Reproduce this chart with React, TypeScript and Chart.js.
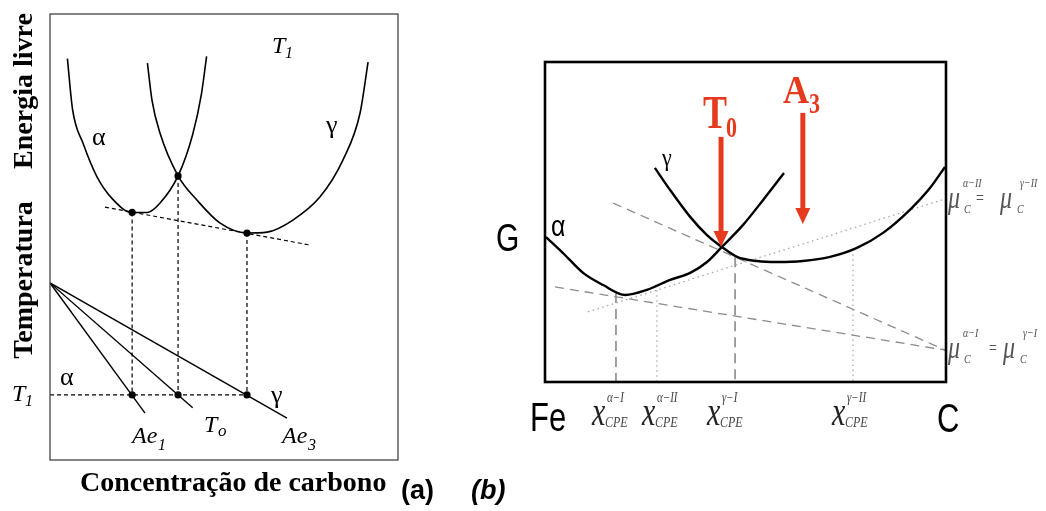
import { useEffect, useRef } from "react";
import { Chart, registerables } from "chart.js";
Chart.register(...registerables);

// ---------- Panel (a): free energy vs carbon at T1, and temperature diagram ----------
const aAlphaX = [5, 6.5, 9.5, 13.5, 18, 23.5, 28, 31.5, 36.8, 41, 43.5, 45];
const aAlphaY = [90, 78.5, 71, 63.5, 58.5, 55.5, 55.5, 57.5, 63.7, 73, 82, 90.5];
const aGammaX = [28, 29.3, 31.6, 36.8, 42.2, 48.9, 56.6, 62.4, 69.8, 77.6, 84.2, 89.1, 91.4];
const aGammaY = [89, 80.7, 73.3, 63.7, 58.3, 53.1, 50.9, 51.1, 53.8, 59, 67.3, 77.8, 89.2];
const aTangentX = [15.8, 74.7];
const aTangentY = [56.7, 48.2];
const aDotX = [23.6, 36.8, 56.6];
const aDotTopY = [55.5, 63.7, 50.9];
const aT1 = 14.6;
const aFanStart = [0, 39.7];
const aFanEndX = [27.3, 41, 68.1]; // Ae1, To, Ae3
const aFanEndY = [10.5, 11.7, 9.4];

// ---------- Panel (b): G vs composition Fe -> C ----------
const bAlphaX = [0.25, 4.5, 9.5, 14.5, 20, 25.4, 31.2, 36.2, 40.4, 44.1, 49.4, 54.4, 59.6];
const bAlphaY = [45.3, 40.3, 34.1, 30.3, 27.2, 28.8, 31.9, 34.1, 37.5, 42.2, 49.1, 56.9, 65.3];
const bGammaX = [27.4, 31.2, 36.2, 40.4, 44.1, 47.9, 52.9, 57.9, 64.3, 71.1, 77.8, 84.3, 91, 96, 99.75];
const bGammaY = [66.9, 60, 51.6, 45.9, 42.2, 39.1, 37.8, 37.5, 37.8, 39.1, 41.9, 46.6, 53.8, 60.6, 67.2];
const bTanGammaIX = [17, 99.75];
const bTanGammaIY = [55.9, 10];
const bTanAlphaIX = [2.5, 99.75];
const bTanAlphaIY = [29.7, 10];
const bTanIIX = [10.7, 99];
const bTanIIY = [21.9, 56.9];
const bDashDropX = [17.7, 47.4];
const bDashDropTop = [27.8, 39.0];
const bDotDropX = [27.9, 76.8];
const bDotDropTop = [28.7, 41.4];
const bArrowX = [43.9, 64.3]; // T0, A3
const bArrowTop = [76.6, 84.1];
const bArrowTip = [42.2, 49.4];

const SERIF = '"Liberation Serif", "Times New Roman", serif';
const SANS = '"Liberation Sans", Arial, sans-serif';
const RED = "#e63a1e";

const pts = (xs: number[], ys: number[]) => xs.map((x, i) => ({ x, y: ys[i] }));

function line(xs: number[], ys: number[], opts: any) {
  return {
    data: pts(xs, ys),
    showLine: true,
    pointRadius: 0,
    fill: false,
    tension: 0,
    ...opts,
  };
}

function txt(
  ctx: CanvasRenderingContext2D,
  s: string,
  x: number,
  y: number,
  font: string,
  color = "#000",
  sy = 1,
  align: CanvasTextAlign = "left",
  rot = 0
) {
  ctx.save();
  ctx.font = font;
  ctx.fillStyle = color;
  ctx.textAlign = align;
  ctx.textBaseline = "alphabetic";
  ctx.translate(x, y);
  if (rot) ctx.rotate(rot);
  ctx.scale(1, sy);
  ctx.fillText(s, 0, 0);
  ctx.restore();
}

const scales = {
  x: { type: "linear", min: 0, max: 100, display: false },
  y: { type: "linear", min: 0, max: 100, display: false },
};

const decoA = {
  id: "decoA",
  afterDatasetsDraw(chart: any) {
    const ctx = chart.ctx as CanvasRenderingContext2D;
    const a = chart.chartArea;
    ctx.save();
    ctx.strokeStyle = "#444";
    ctx.lineWidth = 1.3;
    ctx.strokeRect(a.left, a.top, a.right - a.left, a.bottom - a.top);
    ctx.restore();
    // axis titles
    txt(ctx, "Energia livre", 32, 91, `bold 28px ${SERIF}`, "#000", 1, "center", -Math.PI / 2);
    txt(ctx, "Temperatura", 32, 280, `bold 28px ${SERIF}`, "#000", 1, "center", -Math.PI / 2);
    txt(ctx, "Concentração de carbono", 80, 491, `bold 28px ${SERIF}`);
    txt(ctx, "(a)", 401, 499, `bold 27px ${SANS}`);
    // upper labels
    txt(ctx, "T", 272, 53, `italic 24px ${SERIF}`);
    txt(ctx, "1", 285, 58, `italic 16px ${SERIF}`);
    txt(ctx, "α", 92, 145, `26px ${SERIF}`);
    txt(ctx, "γ", 326, 133, `26px ${SERIF}`);
    // lower labels
    txt(ctx, "α", 60, 385, `26px ${SERIF}`);
    txt(ctx, "T", 12, 401, `italic 24px ${SERIF}`);
    txt(ctx, "1", 25, 406, `italic 16px ${SERIF}`);
    txt(ctx, "γ", 271, 403, `26px ${SERIF}`);
    txt(ctx, "Ae", 132, 443, `italic 24px ${SERIF}`);
    txt(ctx, "1", 158, 450, `italic 16px ${SERIF}`);
    txt(ctx, "T", 204, 432, `italic 24px ${SERIF}`);
    txt(ctx, "o", 218, 436, `italic 17px ${SERIF}`);
    txt(ctx, "Ae", 282, 443, `italic 24px ${SERIF}`);
    txt(ctx, "3", 308, 450, `italic 16px ${SERIF}`);
  },
};

const decoB = {
  id: "decoB",
  afterDatasetsDraw(chart: any) {
    const ctx = chart.ctx as CanvasRenderingContext2D;
    const a = chart.chartArea;
    const xs = chart.scales.x;
    const ys = chart.scales.y;
    // red arrows
    bArrowX.forEach((xv, i) => {
      const px = xs.getPixelForValue(xv);
      const top = ys.getPixelForValue(bArrowTop[i]);
      const tip = ys.getPixelForValue(bArrowTip[i]);
      const headH = 16;
      const headW = 7.5;
      ctx.save();
      ctx.strokeStyle = RED;
      ctx.fillStyle = RED;
      ctx.lineWidth = 5;
      ctx.beginPath();
      ctx.moveTo(px, top);
      ctx.lineTo(px, tip - headH + 2);
      ctx.stroke();
      ctx.beginPath();
      ctx.moveTo(px - headW, tip - headH);
      ctx.lineTo(px + headW, tip - headH);
      ctx.lineTo(px, tip);
      ctx.closePath();
      ctx.fill();
      ctx.restore();
    });
    ctx.save();
    ctx.strokeStyle = "#000";
    ctx.lineWidth = 2.6;
    ctx.strokeRect(a.left, a.top, a.right - a.left, a.bottom - a.top);
    ctx.restore();
    const S = 1.3;
    txt(ctx, "(b)", 471, 499, `italic bold 27px ${SANS}`);
    txt(ctx, "G", 496, 251, `30px ${SANS}`, "#000", S);
    txt(ctx, "α", 551, 236, `25px ${SANS}`, "#000", S * 0.9);
    txt(ctx, "γ", 662, 166, `22px ${SERIF}`, "#000", S * 0.9);
    txt(ctx, "T", 703, 128, `bold 36px ${SERIF}`, RED, S);
    txt(ctx, "0", 726, 137, `bold 22px ${SERIF}`, RED, S);
    txt(ctx, "A", 783, 103, `bold 36px ${SERIF}`, RED, S * 0.85);
    txt(ctx, "3", 809, 113, `bold 22px ${SERIF}`, RED, S);
    txt(ctx, "Fe", 530, 431, `31px ${SANS}`, "#000", S);
    txt(ctx, "C", 937, 432, `31px ${SANS}`, "#000", S);
    // x_CPE labels
    const xl = [
      [592, "α−I"],
      [642, "α−II"],
      [707, "γ−I"],
      [832, "γ−II"],
    ] as [number, string][];
    xl.forEach(([x0, sup]) => {
      txt(ctx, "x", x0, 425, `italic 30px ${SERIF}`, "#222", S);
      txt(ctx, "CPE", x0 + 13, 427, `italic 12px ${SERIF}`, "#444", S);
      txt(ctx, sup, x0 + 15, 402, `italic 11px ${SERIF}`, "#444", S);
    });
    // mu labels
    const mu = (y: number, supA: string, supG: string, eqX: number, mu2X: number) => {
      txt(ctx, "μ", 948, y, `italic 24px ${SERIF}`, "#555", S);
      txt(ctx, "C", 964, y + 5, `italic 10px ${SERIF}`, "#555", S);
      txt(ctx, supA, 963, y - 21, `italic 10px ${SERIF}`, "#555", S);
      txt(ctx, "=", eqX, y - 4, `14px ${SERIF}`, "#555", S);
      txt(ctx, "μ", mu2X, y, `italic 24px ${SERIF}`, "#555", S);
      txt(ctx, "C", mu2X + 17, y + 5, `italic 10px ${SERIF}`, "#555", S);
      txt(ctx, supG, mu2X + 20, y - 21, `italic 10px ${SERIF}`, "#555", S);
    };
    mu(208, "α−II", "γ−II", 976, 1000);
    mu(358, "α−I", "γ−I", 989, 1003);
  },
};

const configA: any = {
  type: "scatter",
  data: {
    datasets: [
      line(aAlphaX, aAlphaY, { borderColor: "#000", borderWidth: 1.6, cubicInterpolationMode: "monotone" }),
      line(aGammaX, aGammaY, { borderColor: "#000", borderWidth: 1.6, cubicInterpolationMode: "monotone" }),
      line(aTangentX, aTangentY, { borderColor: "#000", borderWidth: 1.2, borderDash: [4, 3] }),
      ...aDotX.map((x, i) =>
        line([x, x], [aDotTopY[i], aT1], { borderColor: "#000", borderWidth: 1.2, borderDash: [4, 3] })
      ),
      line([0, aDotX[2]], [aT1, aT1], { borderColor: "#000", borderWidth: 1.2, borderDash: [4, 3] }),
      ...aFanEndX.map((x, i) =>
        line([aFanStart[0], x], [aFanStart[1], aFanEndY[i]], { borderColor: "#000", borderWidth: 1.4 })
      ),
      {
        data: [...pts(aDotX, aDotTopY), ...pts(aDotX, aDotX.map(() => aT1))],
        pointRadius: 3.6,
        pointBackgroundColor: "#000",
        pointBorderWidth: 0,
        showLine: false,
      },
    ],
  },
  options: {
    animation: false,
    responsive: false,
    devicePixelRatio: 1,
    events: [],
    layout: { padding: { left: 50, top: 14, right: 648, bottom: 51 } },
    scales,
    plugins: { legend: { display: false }, tooltip: { enabled: false } },
  },
  plugins: [decoA],
};

const configB: any = {
  type: "scatter",
  data: {
    datasets: [
      line(bAlphaX, bAlphaY, { borderColor: "#000", borderWidth: 2.4, cubicInterpolationMode: "monotone" }),
      line(bGammaX, bGammaY, { borderColor: "#000", borderWidth: 2.4, cubicInterpolationMode: "monotone" }),
      line(bTanGammaIX, bTanGammaIY, { borderColor: "#8c8c8c", borderWidth: 1.3, borderDash: [9, 6] }),
      line(bTanAlphaIX, bTanAlphaIY, { borderColor: "#8c8c8c", borderWidth: 1.3, borderDash: [9, 6] }),
      line(bTanIIX, bTanIIY, { borderColor: "#a8a8a8", borderWidth: 1.3, borderDash: [1.5, 3.5] }),
      ...bDashDropX.map((x, i) =>
        line([x, x], [bDashDropTop[i], 0], { borderColor: "#7a7a7a", borderWidth: 1.4, borderDash: [10, 6] })
      ),
      ...bDotDropX.map((x, i) =>
        line([x, x], [bDotDropTop[i], 0], { borderColor: "#a8a8a8", borderWidth: 1.2, borderDash: [1.5, 3.5] })
      ),
    ],
  },
  options: {
    animation: false,
    responsive: false,
    devicePixelRatio: 1,
    events: [],
    layout: { padding: { left: 545, top: 62, right: 100, bottom: 129 } },
    scales,
    plugins: { legend: { display: false }, tooltip: { enabled: false } },
  },
  plugins: [decoB],
};

export default function App() {
  const refA = useRef<HTMLCanvasElement>(null);
  const refB = useRef<HTMLCanvasElement>(null);
  useEffect(() => {
    const ca = new Chart(refA.current as HTMLCanvasElement, configA);
    const cb = new Chart(refB.current as HTMLCanvasElement, configB);
    return () => {
      ca.destroy();
      cb.destroy();
    };
  }, []);
  return (
    <div style={{ position: "absolute", left: 0, top: 0, width: 1046, height: 511, background: "#fff" }}>
      <canvas ref={refA} width={1046} height={511} style={{ position: "absolute", left: 0, top: 0 }} />
      <canvas ref={refB} width={1046} height={511} style={{ position: "absolute", left: 0, top: 0 }} />
    </div>
  );
}
